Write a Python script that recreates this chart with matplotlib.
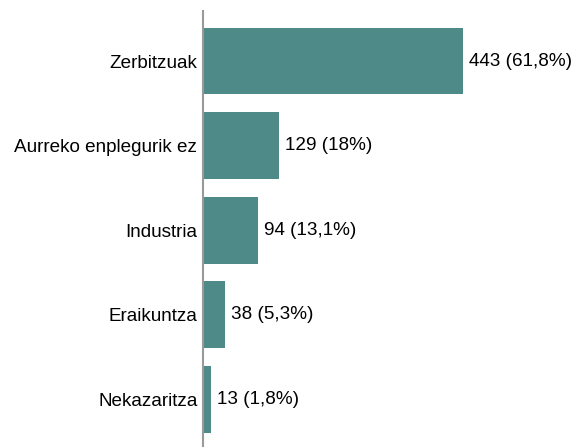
import matplotlib
matplotlib.use("Agg")
import matplotlib.pyplot as plt

categories = ["Zerbitzuak", "Aurreko enplegurik ez", "Industria", "Eraikuntza", "Nekazaritza"]
values = [443, 129, 94, 38, 13]
labels = ["443 (61,8%)", "129 (18%)", "94 (13,1%)", "38 (5,3%)", "13 (1,8%)"]

plt.rcParams['font.family'] = ['Liberation Sans', 'DejaVu Sans']

W, H = 574, 447
fig = plt.figure(figsize=(W/100, H/100), dpi=100)
ax = fig.add_axes([203/W, 0, (W-203)/W, (447-11)/H])

y = list(range(len(categories)))
ax.barh(y, values, height=0.79, color="#4e8a87", edgecolor="none")
ax.set_xlim(0, 443*(W-203)/260)
ax.set_ylim(4 + (447-399.5)/84.6, -(61-11)/84.6)

fs = 13.6
for yi, v, lab in zip(y, values, labels):
    ax.annotate(lab, xy=(v, yi), xytext=(6, 0), textcoords="offset pixels",
                va="center", ha="left", fontsize=fs, color="#000000")

ax.set_yticks(y)
ax.set_yticklabels(categories, fontsize=fs)
ax.tick_params(axis='y', length=0, pad=4)
ax.set_xticks([])
for s in ["top", "right", "bottom"]:
    ax.spines[s].set_visible(False)
ax.spines["left"].set_color("#999999")
ax.spines["left"].set_linewidth(1.5)

fig.savefig("out.png", dpi=100)
